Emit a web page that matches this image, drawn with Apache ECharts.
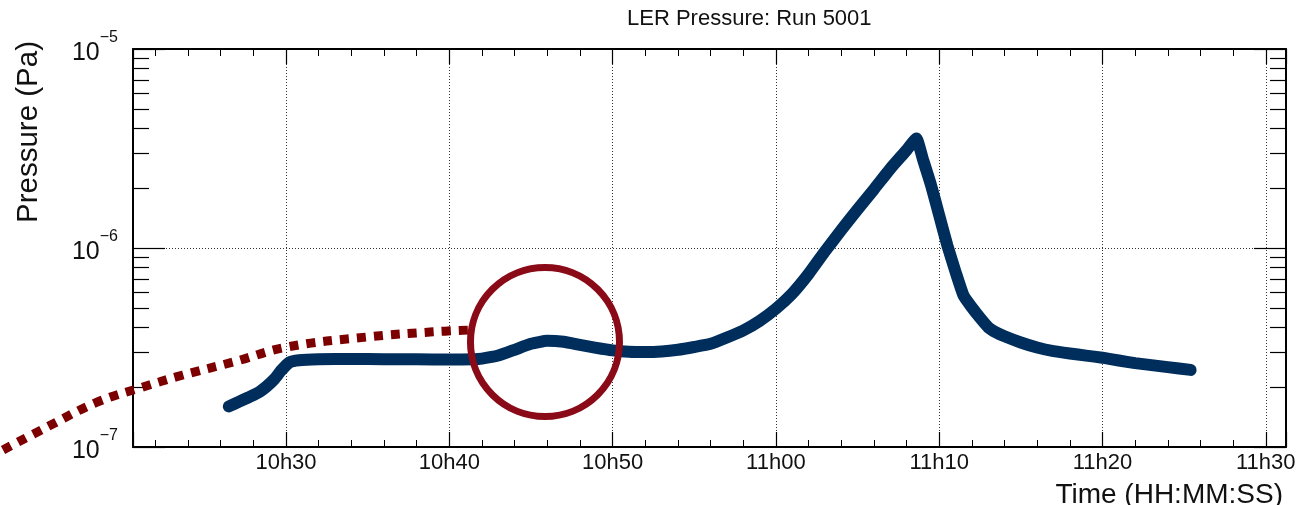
<!DOCTYPE html>
<html><head><meta charset="utf-8">
<script src="https://cdn.jsdelivr.net/npm/echarts@6/dist/echarts.min.js"></script>
<style>html,body{margin:0;padding:0;background:#fff}#chart{width:1297px;height:505px}</style>
</head><body><div id="chart"></div>
<script>
// ---- data (time = minutes since midnight, pressure in Pa) ----
const timeMin = [626.5, 627.2, 627.8, 628.4, 628.8, 629.3, 629.7, 630.2, 630.8, 632.0, 634.0, 636.0, 638.0, 640.0, 641.5,
  642.0, 643.0, 644.0, 645.0, 646.0, 647.0, 648.0, 649.0, 650.0, 651.0, 652.0, 653.0, 654.0, 655.0,
  656.0, 657.0, 658.0, 659.0, 660.0, 661.0, 662.0, 663.0, 664.0, 665.0, 666.0, 667.0, 668.0, 668.6,
  669.0, 669.5, 670.0, 670.5, 671.0, 671.5, 672.0, 672.5, 673.0, 673.5, 674.0, 675.0, 676.0, 677.0,
  678.0, 679.0, 680.0, 681.0, 682.0, 683.0, 684.0, 685.4];
const pressurePa = [1.60e-7, 1.70e-7, 1.79e-7, 1.90e-7, 2.01e-7, 2.20e-7, 2.42e-7, 2.66e-7, 2.73e-7, 2.76e-7, 2.77e-7, 2.76e-7, 2.76e-7, 2.75e-7, 2.76e-7,
  2.78e-7, 2.88e-7, 3.08e-7, 3.30e-7, 3.42e-7, 3.38e-7, 3.26e-7, 3.15e-7, 3.06e-7, 3.01e-7, 3.00e-7, 3.02e-7, 3.08e-7, 3.18e-7,
  3.30e-7, 3.55e-7, 3.85e-7, 4.30e-7, 4.95e-7, 5.90e-7, 7.40e-7, 9.60e-7, 1.23e-6, 1.56e-6, 1.97e-6, 2.50e-6, 3.10e-6, 3.55e-6,
  2.80e-6, 2.07e-6, 1.46e-6, 1.03e-6, 7.60e-7, 5.75e-7, 5.03e-7, 4.46e-7, 4.00e-7, 3.76e-7, 3.60e-7, 3.35e-7, 3.16e-7, 3.03e-7,
  2.95e-7, 2.88e-7, 2.81e-7, 2.72e-7, 2.64e-7, 2.58e-7, 2.52e-7, 2.44e-7];
const trendTimeMin = [612.67, 615.36, 618.43, 621.06, 623.69, 626.75, 630.06, 634.96, 639.0, 641.27];
const trendPressurePa = [9.66e-8, 1.26e-7, 1.68e-7, 1.98e-7, 2.30e-7, 2.67e-7, 3.18e-7, 3.57e-7, 3.79e-7, 3.87e-7];
const circleCenter = [645.86, 3.37e-7];
const xRange = [620.63, 691.24];
const yRange = [1e-7, 1e-5];
const yMinorValues = [2e-7, 3e-7, 4e-7, 5e-7, 6e-7, 7e-7, 8e-7, 9e-7, 2e-6, 3e-6, 4e-6, 5e-6, 6e-6, 7e-6, 8e-6, 9e-6];
const titleText = 'LER Pressure: Run 5001';
const xTitle = 'Time (HH:MM:SS)';
const yTitle = 'Pressure (Pa)';

// ---- layout / styling ----
const W = 1297, H = 505;
const G = { left: 133, right: 11, top: 49, bottom: 58 };
const FONT = 'Liberation Sans, Arial, Helvetica, sans-serif';
const MINOR_TICK_PX = 16;
const gridDot = { color: '#333', width: 1, type: [1, 2] };

// overlay grid spanning the canvas, same time / pressure mapping as the main frame
const pxPerMin = (W - G.left - G.right) / (xRange[1] - xRange[0]);
const pxPerDecade = (H - G.top - G.bottom) / (Math.log10(yRange[1]) - Math.log10(yRange[0]));
const overlayX = [xRange[0] - G.left / pxPerMin, xRange[1]];
const overlayY = [Math.pow(10, Math.log10(yRange[0]) - G.bottom / pxPerDecade), yRange[1]];
const minorTickMin = MINOR_TICK_PX / pxPerMin;

const markData = [];
const tickStyle = { color: '#000', width: 1.2, type: 'solid' };
yMinorValues.forEach(v => {
  markData.push({ yAxis: v, lineStyle: gridDot });
  markData.push([{ coord: [xRange[0], v], lineStyle: tickStyle }, { coord: [xRange[0] + minorTickMin, v] }]);
  markData.push([{ coord: [xRange[1] - minorTickMin, v], lineStyle: tickStyle }, { coord: [xRange[1], v] }]);
});

const fmtX = v => {
  const r = Math.round(v / 10) * 10;
  if (Math.abs(v - r) > 1e-6) return '';
  return Math.floor(r / 60) + 'h' + String(r % 60).padStart(2, '0');
};
const fmtY = v => '{b|10}{s|\u2212' + (-Math.round(Math.log10(v))) + '}';

const axisLineStyle = { show: true, lineStyle: { color: '#000', width: 2 } };
const hiddenAxis = { show: false, axisLine: { show: false }, axisTick: { show: false }, axisLabel: { show: false }, splitLine: { show: false } };

const chart = echarts.init(document.getElementById('chart'));
chart.setOption({
  animation: false,
  backgroundColor: '#fff',
  title: [
    { text: titleText, left: 622, top: 3, textStyle: { fontFamily: FONT, fontSize: 22, fontWeight: 'normal', color: '#111' } },
    { text: xTitle, right: 9, top: 476, textStyle: { fontFamily: FONT, fontSize: 28, fontWeight: 'normal', color: '#111' } }
  ],
  grid: [
    { left: G.left, right: G.right, top: G.top, bottom: G.bottom, containLabel: false, outerBoundsMode: 'none' },
    { left: 0, right: G.right, top: G.top, bottom: 0, containLabel: false, outerBoundsMode: 'none' }
  ],
  xAxis: [{
    type: 'value', gridIndex: 0, position: 'bottom', min: xRange[0], max: xRange[1], splitNumber: 7,
    axisLine: axisLineStyle,
    axisTick: { show: true, inside: true, length: 15, lineStyle: { color: '#000', width: 1.2 } },
    minorTick: { show: true, splitNumber: 5, length: 7, lineStyle: { color: '#000', width: 1 } },
    splitLine: { show: true, lineStyle: gridDot },
    axisLabel: { formatter: fmtX, interval: 0, hideOverlap: false, fontFamily: FONT, fontSize: 22, color: '#111', margin: 5 }
  }, {
    type: 'value', gridIndex: 0, position: 'top', min: xRange[0], max: xRange[1], splitNumber: 7,
    axisLine: axisLineStyle,
    axisTick: { show: true, inside: true, length: 15, lineStyle: { color: '#000', width: 1.2 } },
    minorTick: { show: true, splitNumber: 5, length: 7, lineStyle: { color: '#000', width: 1 } },
    splitLine: { show: false }, axisLabel: { show: false }
  }, Object.assign({ type: 'value', gridIndex: 1, min: overlayX[0], max: overlayX[1] }, hiddenAxis)],
  yAxis: [{
    type: 'log', logBase: 10, gridIndex: 0, position: 'left', min: yRange[0], max: yRange[1],
    axisLine: axisLineStyle,
    axisTick: { show: true, inside: true, length: 32, lineStyle: { color: '#000', width: 1.2 } },
    splitLine: { show: true, lineStyle: gridDot },
    axisLabel: {
      formatter: fmtY, margin: 15, color: '#111',
      rich: {
        b: { fontFamily: FONT, fontSize: 25, color: '#111', padding: [8, 0, 0, 0] },
        s: { fontFamily: FONT, fontSize: 16, color: '#111', padding: [0, 0, 22, 0] }
      }
    },
    name: yTitle, nameLocation: 'middle', nameGap: 89, nameRotate: 90,
    nameTextStyle: { fontFamily: FONT, fontSize: 29.5, color: '#111', padding: [0, 0, 0, 232] }
  }, {
    type: 'log', logBase: 10, gridIndex: 0, position: 'right', min: yRange[0], max: yRange[1],
    axisLine: axisLineStyle,
    axisTick: { show: true, inside: true, length: 32, lineStyle: { color: '#000', width: 1.2 } },
    splitLine: { show: false }, axisLabel: { show: false }
  }, Object.assign({ type: 'log', logBase: 10, gridIndex: 1, min: overlayY[0], max: overlayY[1] }, hiddenAxis)],
  series: [{
    name: 'grid-helper', type: 'line', xAxisIndex: 0, yAxisIndex: 0, z: 1, silent: true,
    data: timeMin.map((t, i) => [t, pressurePa[i]]), showSymbol: false, symbol: 'none',
    lineStyle: { opacity: 0, width: 0 },
    markLine: { silent: true, symbol: ['none', 'none'], label: { show: false }, animation: false, data: markData }
  }, {
    name: 'LER', type: 'line', xAxisIndex: 0, yAxisIndex: 0, z: 10,
    data: timeMin.map((t, i) => [t, pressurePa[i]]), showSymbol: false, symbol: 'none', smooth: 0.15,
    lineStyle: { color: '#002e5c', width: 12, cap: 'round', join: 'round' }
  }, {
    name: 'trend', type: 'line', xAxisIndex: 2, yAxisIndex: 2, z: 11,
    data: trendTimeMin.map((t, i) => [t, trendPressurePa[i]]), showSymbol: false, symbol: 'none', smooth: 0.4,
    lineStyle: { color: '#7d0000', width: 9, type: [9, 8], cap: 'butt' }
  }, {
    name: 'circle', type: 'scatter', xAxisIndex: 2, yAxisIndex: 2, z: 12, silent: true,
    data: [circleCenter], symbol: 'circle', symbolSize: 149,
    itemStyle: { color: 'rgba(0,0,0,0)', borderColor: '#8a0a18', borderWidth: 7, opacity: 1 }
  }]
});
</script></body></html>
